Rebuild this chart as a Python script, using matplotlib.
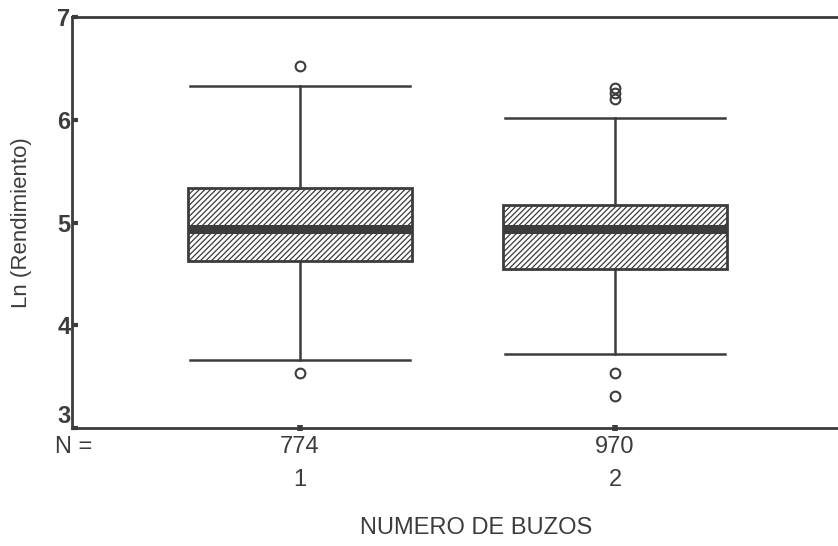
import matplotlib
matplotlib.use("Agg")
import matplotlib.pyplot as plt
import matplotlib.transforms as mtransforms

plt.rcParams["font.family"] = ["Liberation Sans", "DejaVu Sans"]
plt.rcParams["hatch.linewidth"] = 0.9
plt.rcParams["hatch.color"] = "#555555"

# values
groups = ["1", "2"]
counts = [774, 970]
q1 = [4.63, 4.55]
medians = [4.94, 4.94]
q3 = [5.34, 5.17]
whislo = [3.66, 3.72]
whishi = [6.33, 6.02]
outliers = [[6.52, 3.54], [6.31, 6.26, 6.20, 3.54, 3.31]]

INK = "#3c3c3c"

stats = []
for i in range(len(groups)):
    stats.append(dict(med=medians[i], q1=q1[i], q3=q3[i], whislo=whislo[i],
                      whishi=whishi[i], fliers=outliers[i], label=groups[i]))

fig = plt.figure(figsize=(8.38, 5.46), dpi=100)
ax = fig.add_axes([72 / 838, 118 / 546, 1 - 72 / 838, 411 / 546])

bp = ax.bxp(stats, positions=[1, 2], widths=0.714, capwidths=0.70,
            patch_artist=True, manage_ticks=False,
            boxprops=dict(facecolor="white", edgecolor=INK, linewidth=2.0, hatch="//////"),
            medianprops=dict(color=INK, linewidth=6.5, solid_capstyle="butt"),
            whiskerprops=dict(color=INK, linewidth=1.8),
            capprops=dict(color=INK, linewidth=1.8),
            flierprops=dict(marker="o", markersize=7, markerfacecolor="none",
                            markeredgecolor=INK, markeredgewidth=1.5))

ax.set_xlim(0.276, 2.708)
ax.set_ylim(3, 7)
ax.set_yticks([3, 4, 5, 6, 7])
ax.tick_params(axis="y", direction="in", length=4, width=3, color=INK,
               labelsize=17, pad=1, labelcolor=INK)
for t in ax.get_yticklabels():
    t.set_fontweight("bold")
# the bottom label sits just above the axis, clear of "N ="
ax.get_yticklabels()[0].set_verticalalignment("bottom")

ax.set_xticks([1, 2])
ax.set_xticklabels([f"{n}\n{g}" for n, g in zip(counts, groups)])
ax.tick_params(axis="x", direction="inout", length=5, width=4, color=INK,
               labelsize=17, pad=3, labelcolor=INK)
for t in ax.get_xticklabels():
    t.set_linespacing(1.65)

trans = mtransforms.blended_transform_factory(ax.transAxes, ax.transAxes)
ax.text(0.002, -0.02, "N =", transform=trans, ha="center", va="top",
        fontsize=17, color=INK)

for side in ["top", "left", "bottom"]:
    ax.spines[side].set_color(INK)
    ax.spines[side].set_linewidth(2.0)
ax.spines["right"].set_visible(False)

ax.set_ylabel("Ln (Rendimiento)", fontsize=16, color=INK, labelpad=18)
fig.text(476 / 838, 18 / 546, "NUMERO DE BUZOS", ha="center", va="center",
         fontsize=17, color=INK)

fig.savefig("out.png", dpi=100)
